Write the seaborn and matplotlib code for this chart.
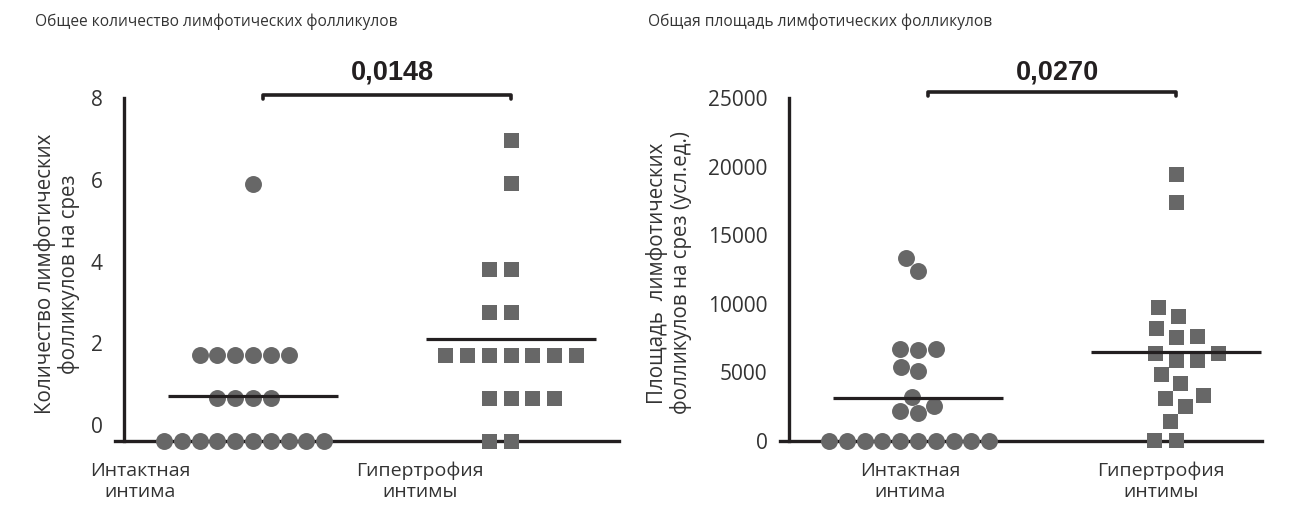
import numpy as np
import pandas as pd
import matplotlib
matplotlib.use("Agg")
import matplotlib.pyplot as plt
from matplotlib.transforms import ScaledTranslation, blended_transform_factory
import seaborn as sns

# ----------------------------
# Data
# ----------------------------
groups = ["Интактная\nинтима", "Гипертрофия\nинтимы"]

intact_count = [0, 0, 0, 0, 0, 0, 0, 0, 0, 0, 1, 1, 1, 1, 2, 2, 2, 2, 2, 2, 6]
hyper_count = [0, 0, 1, 1, 1, 1, 2, 2, 2, 2, 2, 2, 2, 3, 3, 4, 4, 6, 7]

intact_area = [0, 0, 0, 0, 0, 0, 0, 0, 0, 0,
               2050, 2200, 2550, 3200, 5100, 5400, 6600, 6700, 6700, 12400, 13300]
hyper_area = [0, 0, 1450, 2500, 3100, 3350, 4200, 4850, 5900, 5900,
              6400, 6400, 7550, 7600, 8200, 9050, 9700, 17400, 19400]

titles = ["Общее количество лимфотических фолликулов",
          "Общая площадь лимфотических фолликулов"]
ylabels = ["Количество лимфотических\nфолликулов на срез",
           "Площадь  лимфотических\nфолликулов на срез (усл.ед.)"]
pvalues = ["0,0148", "0,0270"]
yticks = [[0, 2, 4, 6, 8], [0, 5000, 10000, 15000, 20000, 25000]]

# ----------------------------
# Style
# ----------------------------
sns.set_theme(style="white")
plt.rcParams["font.family"] = ["Open Sans", "DejaVu Sans"]

DOT = "#676767"
INK = "#231f20"
TXT = "#333333"
DPI = 100

fig = plt.figure(figsize=(12.97, 5.09), dpi=DPI)

# axes placed in pixels of the reference (258 px per category step)
ax1 = fig.add_axes([115 / 1297, 55.1 / 509, 504.4 / 1297, 360.2 / 509])
ax2 = fig.add_axes([780 / 1297, 54.3 / 509, 482 / 1297, 363.6 / 509])

panels = [
    (ax1, intact_count, hyper_count, (-0.3, 8.1), (-0.535, 1.42), 8, 8.07),
    (ax2, intact_area, hyper_area, (-1000, 25500), (-0.535, 1.333), 25000, 25440),
]

for k, (ax, a, b, ylim, xlim, ytop, ybr) in enumerate(panels):
    df = pd.DataFrame({
        "group": [groups[0]] * len(a) + [groups[1]] * len(b),
        "value": a + b,
    })

    sns.swarmplot(data=df[df.group == groups[0]], x="group", y="value",
                  order=groups, marker="o", color=DOT, size=12.2,
                  linewidth=0, ax=ax, zorder=3)
    sns.swarmplot(data=df[df.group == groups[1]], x="group", y="value",
                  order=groups, marker="s", color=DOT, size=10.8,
                  linewidth=4.1, edgecolor="none", ax=ax, zorder=3)

    # mean lines
    for i, vals in enumerate([a, b]):
        m = np.mean(vals)
        ax.hlines(m, i - 0.33, i + 0.33, color=INK, lw=2.3, zorder=4)

    ax.set_xlim(*xlim)
    ax.set_ylim(*ylim)
    ax.set_xlabel("")
    ax.set_ylabel(ylabels[k], fontsize=14.8, color=TXT, linespacing=1.1)
    ax.yaxis.label.set_va("center")
    ax.yaxis.set_label_coords([-0.115, -0.230][k], 0.5)

    for s in ["top", "right"]:
        ax.spines[s].set_visible(False)
    ax.spines["left"].set_position(("data", -0.5))
    ax.spines["left"].set_bounds(0, ytop)
    ax.spines["bottom"].set_position(("data", 0))
    for s in ["left", "bottom"]:
        ax.spines[s].set_color(INK)
        ax.spines[s].set_linewidth(2.4)

    ax.set_yticks(yticks[k])
    ax.set_yticklabels([str(t) for t in yticks[k]])
    ax.tick_params(axis="y", direction="out", length=7.5, width=2.2,
                   color=INK, labelsize=15, labelcolor=TXT, pad=8)
    ax.tick_params(axis="x", direction="out", length=4.5, width=1.5,
                   color=INK, labelbottom=False)

    # significance bracket
    dy = [0.1, 290][k]
    ax.plot([0.04, 0.04, 1.0, 1.0], [ybr - dy, ybr, ybr, ybr - dy],
            color=INK, lw=2.6, clip_on=False, solid_joinstyle="round")
    ax.text(0.54, [8.6, 26820][k], pvalues[k], ha="center", va="center",
            fontsize=19.5, fontweight="bold", color=INK,
            family=["Liberation Sans", "DejaVu Sans"])

    fig.text([35, 648][k] / 1297, 1 - 22 / 509, titles[k], ha="left", va="center",
             fontsize=11.2, color=TXT)

# category labels under the axes (left panel labels sit off-centre in the source)
label_x = [[-0.438, 0.647], [-0.03, 0.94]]
for k, ax in enumerate([ax1, ax2]):
    tr = blended_transform_factory(ax.transData, fig.transFigure)
    for i, g in enumerate(groups):
        ax.text(label_x[k][i], 47 / 509, g, transform=tr, ha="center", va="top",
                fontsize=14, color=TXT, linespacing=1.2, multialignment="center")

# left panel tick labels are slightly compressed upward in the source
for t, v in zip(ax1.yaxis.get_major_ticks(), yticks[0]):
    t.label1.set_transform(t.label1.get_transform() +
                           ScaledTranslation(0, 2 * (8 - v) / DPI, fig.dpi_scale_trans))

fig.savefig("out.png", dpi=DPI, facecolor="white")
